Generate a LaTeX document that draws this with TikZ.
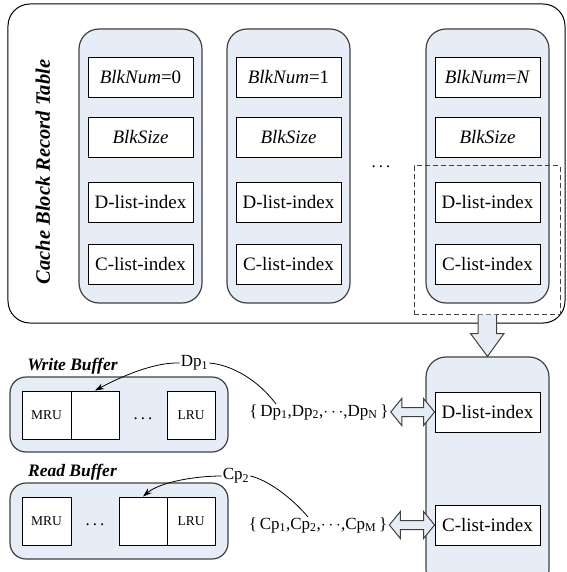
\documentclass[tikz,border=0pt]{standalone}
\usepackage{fontspec}
\setmainfont{Liberation Serif}
\usetikzlibrary{arrows.meta,calc}
\definecolor{panel}{RGB}{231,237,247}
\definecolor{rim}{RGB}{64,64,64}
\begin{document}
\begin{tikzpicture}[x=1bp,y=-1bp,
  panelbox/.style={draw=rim, fill=panel, line width=1.2bp, rounded corners=20bp, inner sep=0},
  cell/.style={draw=black, fill=white, line width=0.9bp, inner sep=0,
    minimum width=105bp, minimum height=40bp, font=\fontsize{19bp}{22bp}\selectfont},
  bufcell/.style={draw=black, fill=white, line width=0.9bp, inner sep=0,
    minimum width=48bp, minimum height=48bp, font=\fontsize{13.5bp}{16bp}\selectfont},
  setlbl/.style={inner sep=2bp, font=\fontsize{17bp}{20bp}\selectfont},
  ptr/.style={inner sep=1bp, font=\fontsize{17bp}{20bp}\selectfont},
  heading/.style={font=\bfseries\itshape\fontsize{17.5bp}{20bp}\selectfont},
  dotsep/.style={anchor=base, font=\fontsize{17bp}{20bp}\selectfont},
  pointer/.style={line width=0.8bp, -{Stealth[length=9bp,width=6bp]}},
  link/.style={line width=0.8bp},
  blockarrow/.style={draw=rim, fill=panel, line width=1bp, line join=miter}]

\useasboundingbox (0,0) rectangle (567,572);
\clip (0,0) rectangle (567,572);

% record table frame
\node[draw=black, line width=1bp, rounded corners=22bp, minimum width=557bp,
      minimum height=319bp, inner sep=0] (table) at (286.5,163.5) {};
\node[rotate=90, font=\bfseries\itshape\fontsize{20.5bp}{24bp}\selectfont] (title)
      at (43,172) {Cache Block Record Table};

% record columns
\foreach \c/\x/\n in {1/140.5/0, 2/288.5/1}{
  \node[panelbox, minimum width=123bp, minimum height=274bp] (col\c) at (\x,166) {};
  \node[cell] (num\c) at (\x,77) {\textit{BlkNum}=\n};
  \node[cell] (size\c) at (\x,137) {\textit{BlkSize}};
  \node[cell] (dix\c) at (\x,202) {D-list-index};
  \node[cell] (cix\c) at (\x,264) {C-list-index};
}
\node[panelbox, minimum width=123bp, minimum height=274bp] (col3) at (487.5,166) {};
\node[cell] (num3) at (487.5,77) {\textit{BlkNum}=\textit{N}};
\node[cell] (size3) at (487.5,137) {\textit{BlkSize}};
\node[cell] (dix3) at (487.5,202) {D-list-index};
\node[cell] (cix3) at (487.5,264) {C-list-index};
\node[dotsep] (coldots) at (381,168) {.\hspace{3bp}.\hspace{3bp}.};

% selected part of the last record
\node[draw=rim, dashed, dash pattern=on 5bp off 3bp, line width=1bp,
      minimum width=146bp, minimum height=148bp, inner sep=0] (sel) at (487,240) {};

% extracted index column
\node[panelbox, minimum width=123bp, minimum height=233bp] (bot) at (487.5,473.5) {};
\node[cell] (dbox) at (487.5,412) {D-list-index};
\node[cell] (cbox) at (487.5,525) {C-list-index};

% block arrow from the selection to the index column
\coordinate (s0) at (sel.south);
\coordinate (s1) at (bot.north);
\fill[panel] ($(s0)+(-9,0)$) -- ($(s0)+(-9,19)$) -- ($(s0)+(-16.5,19)$) -- (s1)
  -- ($(s0)+(17,19)$) -- ($(s0)+(9.5,19)$) -- ($(s0)+(9.5,0)$) -- cycle;
\draw[rim, line width=1bp, line join=miter] ($(s0)+(-9,0)$) -- ($(s0)+(-9,19)$)
  -- ($(s0)+(-16.5,19)$) -- (s1) -- ($(s0)+(17,19)$) -- ($(s0)+(9.5,19)$) -- ($(s0)+(9.5,0)$);

% write buffer
\node[heading] (wlabel) at (72.5,366) {Write Buffer};
\node[panelbox, rounded corners=16bp, minimum width=218bp, minimum height=75bp] (wbuf) at (119,414.5) {};
\node[bufcell, minimum width=49bp] (wmru) at (46.5,415) {MRU};
\node[bufcell] (wblank) at (95,415) {};
\node[bufcell] (wlru) at (191,415) {LRU};
\node[dotsep] (wdots) at (143,419) {.\hspace{3bp}.\hspace{3bp}.};

% read buffer
\node[heading] (rlabel) at (72.5,472) {Read Buffer};
\node[panelbox, rounded corners=16bp, minimum width=218bp, minimum height=76bp] (rbuf) at (119,521) {};
\node[bufcell, minimum width=49bp] (rmru) at (46.5,521) {MRU};
\node[bufcell] (rblank) at (143,521) {};
\node[bufcell] (rlru) at (191,521) {LRU};
\node[dotsep] (rdots) at (95,525) {.\hspace{3bp}.\hspace{3bp}.};

% pointer sets
\node[setlbl] (dset) at (319,412) {\{\,Dp\textsubscript{1},Dp\textsubscript{2},$\cdots$,Dp\textsubscript{N}\,\}};
\node[setlbl] (cset) at (318,525) {\{\,Cp\textsubscript{1},Cp\textsubscript{2},$\cdots$,Cp\textsubscript{M}\,\}};

% pointers into the buffers
\node[ptr] (dp) at (194.5,363) {Dp\textsubscript{1}};
\node[ptr] (cp) at (236,476) {Cp\textsubscript{2}};
\coordinate (dend) at (276,404);
\coordinate (cend) at (308,517);
\draw[pointer] (dp.west) .. controls (155,362) and (122,376) .. (wblank.north);
\draw[link] (dp.east) .. controls (232,365) and (258,380) .. (dend);
\draw[pointer] (cp.west) .. controls (195,476) and (160,482) .. (rblank.north);
\draw[link] (cp.east) .. controls (268,480) and (292,498) .. (cend);

% two-way block arrows between the sets and the index boxes
\foreach \s/\b in {dset/dbox, cset/cbox}{
  \coordinate (dl) at (\s.east);
  \coordinate (dr) at (\b.west |- \s.east);
  \draw[blockarrow] (dl) -- ($(dl)+(11,-13.5)$) -- ($(dl)+(11,-4.5)$) -- ($(dr)+(-11,-4.5)$)
    -- ($(dr)+(-11,-13.5)$) -- (dr) -- ($(dr)+(-11,13.5)$) -- ($(dr)+(-11,4.5)$)
    -- ($(dl)+(11,4.5)$) -- ($(dl)+(11,13.5)$) -- cycle;
}
\end{tikzpicture}
\end{document}
